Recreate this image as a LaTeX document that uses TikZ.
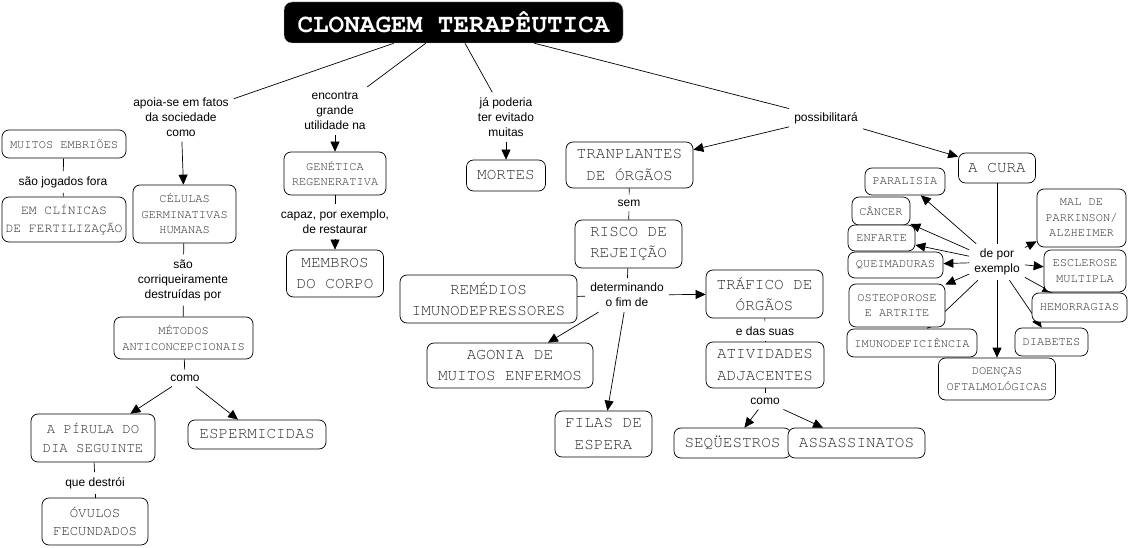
\documentclass[tikz,border=0pt]{standalone}
\usepackage{fontspec}
\setmainfont{Liberation Sans}
\newfontfamily\cmapfont[Extension=.otf, UprightFont=*-regular, BoldFont=*-bold]{texgyrecursor}
\usepackage{xcolor}
\usepackage{tikz}
\usetikzlibrary{arrows.meta,positioning,backgrounds}

\definecolor{conceptgray}{RGB}{45,45,45}

\begin{document}
\begin{tikzpicture}[x=1pt, y=-1pt,
    every node/.style={inner sep=0pt},
    wh/.style 2 args={minimum width=#1pt, minimum height=#2pt},
    concept/.style={draw, fill=white, line width=0.7pt, rounded corners=7pt, align=center,
        text=conceptgray, font=\cmapfont\fontsize{12}{15.5}\selectfont},
    mid/.style={concept, font=\cmapfont\fontsize{14}{18.5}\selectfont},
    big/.style={concept, font=\cmapfont\fontsize{16}{21.5}\selectfont},
    title/.style={draw=gray!60, fill=black, text=white, rounded corners=8pt,
        font=\cmapfont\bfseries\fontsize{26}{30}\selectfont},
    link/.style={align=center, inner sep=5pt, font=\fontsize{12}{15}\selectfont},
    to/.style={-{Triangle[length=10pt,width=9pt]}, line width=0.7pt},
    tie/.style={line width=0.7pt},
  ]
    \useasboundingbox (0,0) rectangle (1130,548);

    \draw node[title, wh={339}{41}] (clonagem) at (453.5,22.5) {CLONAGEM TERAPÊUTICA};

    % left branch
    \draw node[link] (apoia) at (181,117) {apoia-se em fatos\\da sociedade\\como};
    \draw node[concept, wh={124}{28}] (embrioes) at (64,144) {MUITOS EMBRIÕES};
    \draw node[link] (jogados) at (63,182) {são jogados fora};
    \draw node[concept, font=\cmapfont\fontsize{13}{18}\selectfont, wh={124}{45}] (clinicas)
        at (64,219.5) {EM CLÍNICAS\\DE FERTILIZAÇÃO};
    \draw node[concept, wh={103}{58}] (celulas) at (184.5,214) {CÉLULAS\\GERMINATIVAS\\HUMANAS};
    \draw node[link] (destruidas) at (183,280) {são\\corriqueiramente\\destruídas por};
    \draw node[concept, wh={139}{42}] (metodos) at (183.5,338) {MÉTODOS\\ANTICONCEPCIONAIS};
    \draw node[link] (como1) at (185,378) {como};
    \draw node[mid, wh={124}{48}] (pilula) at (93,438) {A PÍRULA DO\\DIA SEGUINTE};
    \draw node[big, wh={138}{29}] (espermicidas) at (257,434.5) {ESPERMICIDAS};
    \draw node[link] (destroi) at (95,483) {que destrói};
    \draw node[mid, wh={106}{47}] (ovulos) at (95,521.5) {ÓVULOS\\FECUNDADOS};

    % genetica
    \draw node[link] (encontra) at (335,111) {encontra\\grande\\utilidade na};
    \draw node[concept, wh={102}{43}] (genetica) at (335,173.5) {GENÉTICA\\REGENERATIVA};
    \draw node[link] (capaz) at (335,221.5) {capaz, por exemplo,\\de restaurar};
    \draw node[big, wh={97}{47}] (membros) at (335,273.5) {MEMBROS\\DO CORPO};

    % mortes
    \draw node[link] (evitado) at (506,117) {já poderia\\ter evitado\\muitas};
    \draw node[big, wh={79}{31}] (mortes) at (506,175.5) {MORTES};

    % transplantes
    \draw node[link] (possibilitara) at (826,118) {possibilitará};
    \draw node[big, wh={127}{46}] (transplantes) at (629.5,165) {TRANPLANTES\\DE ÓRGÃOS};
    \draw node[link] (sem) at (629,203) {sem};
    \draw node[big, wh={107}{48}] (risco) at (628.5,244) {RISCO DE\\REJEIÇÃO};
    \draw node[link] (determinando) at (627,295) {determinando\\o fim de};
    \draw node[big, wh={177}{48}] (remedios) at (488.5,299) {REMÉDIOS\\IMUNODEPRESSORES};
    \draw node[big, wh={117}{48}] (trafico) at (764.5,294) {TRÁFICO DE\\ÓRGÃOS};
    \draw node[big, wh={166}{45}] (agonia) at (510,365.5) {AGONIA DE\\MUITOS ENFERMOS};
    \draw node[big, wh={97}{46}] (filas) at (603.5,434) {FILAS DE\\ESPERA};
    \draw node[link] (suas) at (765,331) {e das suas};
    \draw node[big, wh={118}{46}] (atividades) at (765,365) {ATIVIDADES\\ADJACENTES};
    \draw node[link] (como2) at (765,401) {como};
    \draw node[big, wh={117}{30}] (sequestros) at (732.5,443) {SEQÜESTROS};
    \draw node[big, wh={137}{30}] (assassinatos) at (856.5,443) {ASSASSINATOS};

    % a cura
    \draw node[big, wh={77}{30}] (cura) at (997,168) {A CURA};
    \draw node[link] (exemplo) at (997,262) {de por\\exemplo};
    \draw node[concept, wh={80}{27}] (paralisia) at (905,181.5) {PARALISIA};
    \draw node[concept, wh={58}{28}] (cancer) at (881,211) {CÂNCER};
    \draw node[concept, wh={67}{26}] (enfarte) at (881.5,238) {ENFARTE};
    \draw node[concept, wh={95}{26}] (queimaduras) at (895.5,265) {QUEIMADURAS};
    \draw node[concept, wh={96}{43}] (osteoporose) at (897,305.5) {OSTEOPOROSE\\E ARTRITE};
    \draw node[concept, wh={130}{28}] (imuno) at (912,343) {IMUNODEFICIÊNCIA};
    \draw node[concept, wh={117}{42}] (doencas) at (997,379) {DOENÇAS\\OFTALMOLÓGICAS};
    \draw node[concept, wh={89}{58}] (parkinson) at (1081.5,218) {MAL DE\\PARKINSON/\\ALZHEIMER};
    \draw node[concept, wh={82}{42}] (esclerose) at (1085,271) {ESCLEROSE\\MULTIPLA};
    \draw node[concept, wh={95}{29}] (hemorragias) at (1079.5,307.5) {HEMORRAGIAS};
    \draw node[concept, wh={73}{28}] (diabetes) at (1051.5,342) {DIABETES};

    \begin{scope}[on background layer]
        \draw[tie] (clonagem) -- (apoia);
        \draw[to] (apoia) -- (celulas);
        \draw[tie] (embrioes) -- (jogados);
        \draw[tie] (jogados) -- (clinicas);
        \draw[tie] (celulas) -- (destruidas);
        \draw[tie] (destruidas) -- (metodos);
        \draw[tie] (metodos) -- (como1);
        \draw[to] (como1) -- (pilula);
        \draw[to] (como1) -- (espermicidas);
        \draw[tie] (pilula) -- (destroi);
        \draw[tie] (destroi) -- (ovulos);

        \draw[tie] (clonagem) -- (encontra);
        \draw[to] (encontra) -- (genetica);
        \draw[tie] (genetica) -- (capaz);
        \draw[to] (capaz) -- (membros);

        \draw[tie] (clonagem) -- (evitado);
        \draw[to] (evitado) -- (mortes);

        \draw[tie] (clonagem) -- (possibilitara);
        \draw[to] (possibilitara) -- (transplantes);
        \draw[to] (possibilitara) -- (cura);
        \draw[tie] (transplantes) -- (sem);
        \draw[tie] (sem) -- (risco);
        \draw[tie] (risco) -- (determinando);
        \draw[tie] (determinando) -- (remedios);
        \draw[to] (determinando) -- (trafico);
        \draw[to] (determinando) -- (agonia);
        \draw[to] (determinando) -- (filas);
        \draw[tie] (trafico) -- (suas);
        \draw[tie] (suas) -- (atividades);
        \draw[tie] (atividades) -- (como2);
        \draw[to] (como2) -- (sequestros);
        \draw[to] (como2) -- (assassinatos);

        \draw[tie] (cura) -- (exemplo);
        \foreach \d in {paralisia, cancer, enfarte, queimaduras, osteoporose, imuno,
                doencas, parkinson, esclerose, hemorragias, diabetes}
            \draw[to] (exemplo) -- (\d);
    \end{scope}
\end{tikzpicture}
\end{document}
